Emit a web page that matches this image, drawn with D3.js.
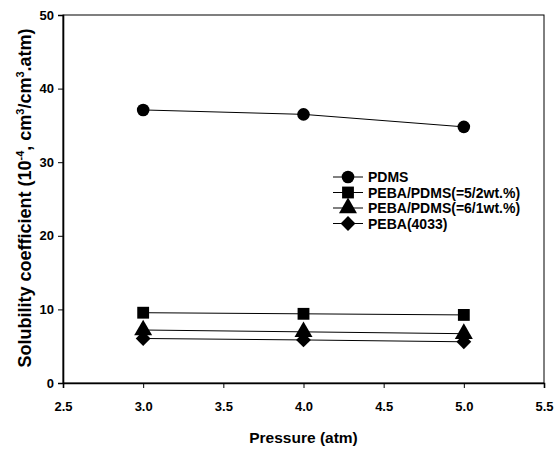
<!DOCTYPE html>
<html lang="en">
<head>
<meta charset="utf-8">
<title>Solubility coefficient vs pressure</title>
<script src="https://cdn.jsdelivr.net/npm/d3@7"></script>
<style>
    body { margin: 0; background: #fff; }
    text { font-family: "Liberation Sans", Arial, sans-serif; font-weight: bold; fill: #000; }
</style>
</head>
<body>
<script>
    // data
    var pressure = [3.0, 4.0, 5.0];
    var seriesNames = ["PDMS", "PEBA/PDMS(=5/2wt.%)", "PEBA/PDMS(=6/1wt.%)", "PEBA(4033)"];
    var pdms = [37.1, 36.5, 34.8];
    var peba52 = [9.55, 9.4, 9.25];
    var peba61 = [7.2, 6.95, 6.7];
    var peba4033 = [6.05, 5.85, 5.6];
    var xTicks = [2.5, 3.0, 3.5, 4.0, 4.5, 5.0, 5.5];
    var yTicks = [0, 10, 20, 30, 40, 50];

    var allSeries = [pdms, peba52, peba61, peba4033];
    var shapes = [d3.symbolCircle, d3.symbolSquare, d3.symbolTriangle, d3.symbolSquare];
    var sizes = [125, 140, 140, 110];
    // diamond = square turned 45 deg
    var extra = ["", "", "", " rotate(45)"];

    var width = 554, height = 450;
    var margin = {left: 63, right: 10, top: 15, bottom: 67};

    var svg = d3.select("body").append("svg")
        .attr("width", width)
        .attr("height", height);

    var x = d3.scaleLinear().domain([2.5, 5.5]).range([margin.left, width - margin.right]);
    var y = d3.scaleLinear().domain([0, 50]).range([height - margin.bottom, margin.top]);

    // frame
    svg.append("rect")
        .attr("x", x(2.5)).attr("y", y(50))
        .attr("width", x(5.5) - x(2.5)).attr("height", y(0) - y(50))
        .attr("fill", "none").attr("stroke", "#000").attr("stroke-width", 1);

    // axes
    var xAxis = svg.append("g")
        .attr("transform", "translate(0," + y(0) + ")")
        .call(d3.axisBottom(x).tickValues(xTicks).tickFormat(d3.format(".1f")).tickSize(5).tickPadding(14));
    var yAxis = svg.append("g")
        .attr("transform", "translate(" + x(2.5) + ",0)")
        .call(d3.axisLeft(y).tickValues(yTicks).tickSize(5).tickPadding(4));
    [xAxis, yAxis].forEach(function (g) {
        g.select(".domain").attr("stroke-width", 1.6);
        g.selectAll("text").style("font-size", "13px");
    });

    // lines and markers
    var line = d3.line()
        .x(function (d, i) { return x(pressure[i]); })
        .y(function (d) { return y(d); });

    allSeries.forEach(function (vals, k) {
        svg.append("path")
            .attr("d", line(vals))
            .attr("fill", "none")
            .attr("stroke", "#000")
            .attr("stroke-width", 1);
        svg.selectAll(null)
            .data(vals)
            .enter().append("path")
            .attr("d", d3.symbol().type(shapes[k]).size(sizes[k]))
            .attr("transform", function (d, i) {
                return "translate(" + x(pressure[i]) + "," + y(d) + ")" + extra[k];
            })
            .attr("fill", "#000");
    });

    // legend
    var legend = svg.append("g").attr("transform", "translate(333,177)");
    seriesNames.forEach(function (name, k) {
        var row = legend.append("g").attr("transform", "translate(0," + (k * 15.5) + ")");
        row.append("line")
            .attr("x1", 0).attr("x2", 30)
            .attr("stroke", "#000").attr("stroke-width", 1);
        row.append("path")
            .attr("d", d3.symbol().type(shapes[k]).size(sizes[k]))
            .attr("transform", "translate(15,0)" + extra[k])
            .attr("fill", "#000");
        row.append("text")
            .attr("x", 35).attr("dy", "0.36em")
            .style("font-size", "14px")
            .text(name);
    });

    // axis titles
    svg.append("text")
        .attr("x", x(4.0)).attr("y", 443)
        .attr("text-anchor", "middle")
        .style("font-size", "15.5px")
        .text("Pressure (atm)");

    var yt = svg.append("text")
        .attr("transform", "translate(31," + 198 + ") rotate(-90)")
        .attr("text-anchor", "middle")
        .style("font-size", "18px");
    yt.append("tspan").text("Solubility coefficient (10");
    yt.append("tspan").attr("dy", -7).style("font-size", "11px").text("-4");
    yt.append("tspan").attr("dy", 7).text(", cm");
    yt.append("tspan").attr("dy", -7).style("font-size", "11px").text("3");
    yt.append("tspan").attr("dy", 7).text("/cm");
    yt.append("tspan").attr("dy", -7).style("font-size", "11px").text("3");
    yt.append("tspan").attr("dy", 7).text(".atm)");
</script>
</body>
</html>
